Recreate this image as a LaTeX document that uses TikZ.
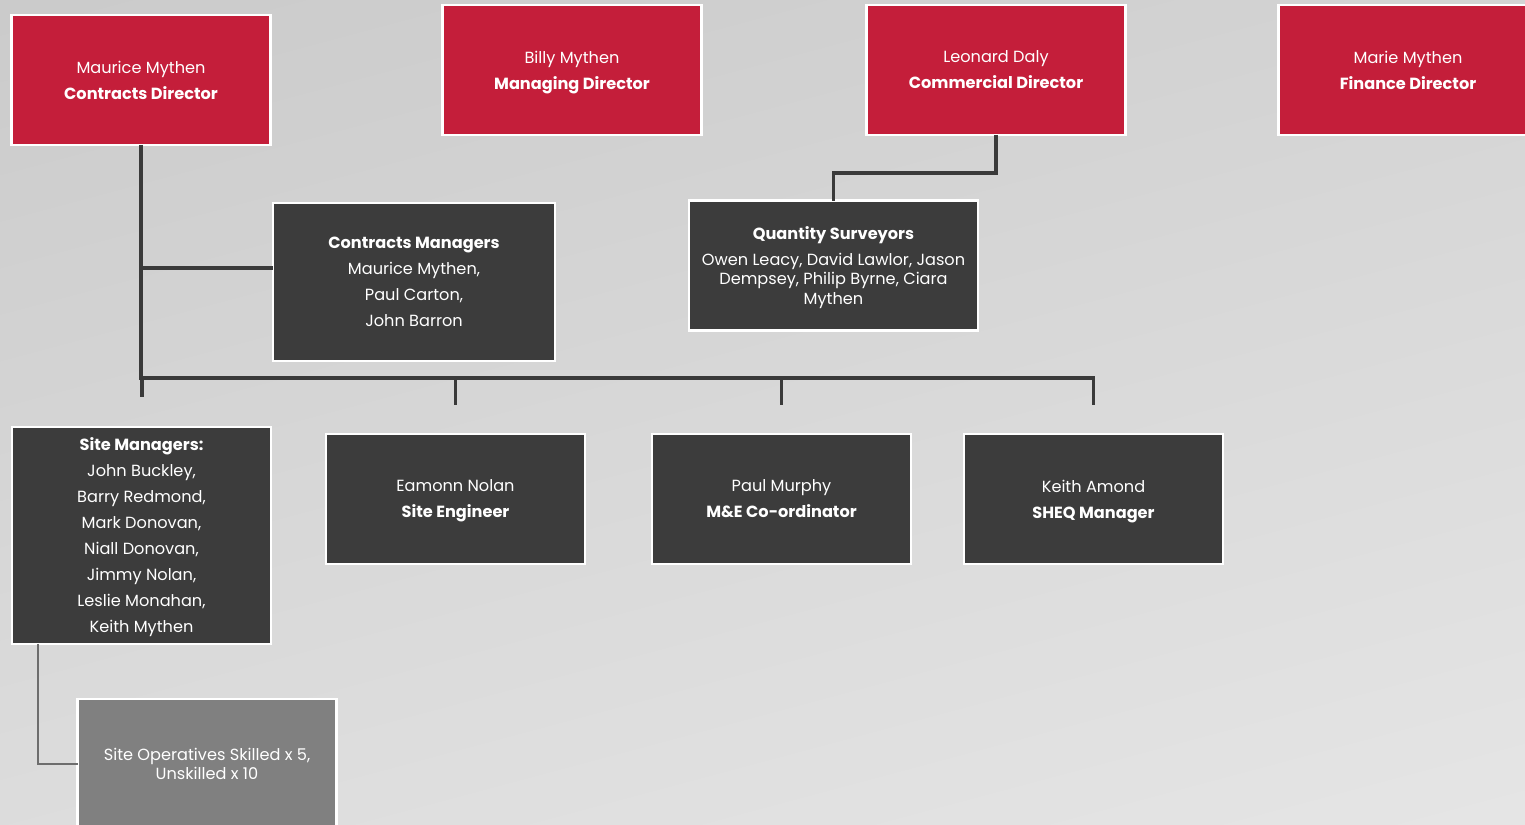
\documentclass[tikz,border=0pt]{standalone}
\usepackage{fontspec}
\setmainfont{Poppins}
\usepackage{tikz}
\definecolor{mythred}{RGB}{196,30,58}
\definecolor{boxgrey}{RGB}{60,60,60}
\definecolor{opgrey}{RGB}{128,128,128}
\definecolor{linegrey}{RGB}{58,58,58}

\begin{document}
\begin{tikzpicture}[x=0.02cm,y=-0.02cm,
	box/.style={draw=white,line width=1.5pt,text=white,align=center,inner sep=2pt,outer sep=0pt,
		text depth=0pt,minimum width=5.18cm,minimum height=2.6cm,font=\fontsize{9.2}{14.8}\selectfont},
	redbox/.style={box,fill=mythred},
	darkbox/.style={box,fill=boxgrey},
	opbox/.style={box,fill=opgrey,font=\fontsize{9.2}{11}\selectfont},
	link/.style={draw=linegrey,line width=1.9pt},
	oplink/.style={draw=opgrey!85!black,line width=1.4pt}]
\useasboundingbox (0,0) rectangle (1525,825);
\clip (0,0) rectangle (1525,825);
\shade[top color={rgb,255:red,203;green,203;blue,203},bottom color={rgb,255:red,229;green,229;blue,229},shading angle=15]
	(-100,-100) rectangle (1625,925);

% directors
\node[redbox] (CD) at (141,80) {Maurice Mythen\\\textbf{Contracts Director}};
\node[redbox] (MD) at (572,70) {Billy Mythen\\\textbf{Managing Director}};
\node[redbox] (ComD) at (996,70) {Leonard Daly\\\textbf{Commercial Director}};
\node[redbox] (FD) at (1408,70) {Marie Mythen\\\textbf{Finance Director}};

% managers
\node[darkbox,minimum width=5.64cm,minimum height=3.16cm] (CM) at (414,282)
	{\textbf{Contracts Managers}\\Maurice Mythen,\\Paul Carton,\\John Barron};
\node[darkbox,minimum width=5.78cm,font=\fontsize{9.2}{11.2}\selectfont] (QS) at (833.5,265.5)
	{\textbf{Quantity Surveyors}\\[3.5pt]Owen Leacy, David Lawlor, Jason\\Dempsey, Philip Byrne, Ciara\\Mythen};
\node[darkbox,minimum height=4.34cm] (SM) at (141.5,535.5)
	{\textbf{Site Managers:}\\John Buckley,\\Barry Redmond,\\Mark Donovan,\\Niall Donovan,\\Jimmy Nolan,\\Leslie Monahan,\\Keith Mythen};
\node[darkbox] (SE) at (455.5,499) {Eamonn Nolan\\\textbf{Site Engineer}};
\node[darkbox] (ME) at (781.5,499) {Paul Murphy\\\textbf{M\&E Co-ordinator}};
\node[darkbox] (SHEQ) at (1093.5,499) {Keith Amond\\\textbf{SHEQ Manager}};
\node[opbox] (SO) at (207,764) {Site Operatives Skilled x 5,\\Unskilled x 10};

\coordinate (bus) at (141,378);
\coordinate (cmjoin) at (141,268);

\draw[link] (CD.south) -- (bus) -- (bus -| SHEQ) -- ++(0,27);
\draw[link] (cmjoin) -- (cmjoin -| CM.west);
\draw[link] \foreach \n in {SE,ME}
{
	(bus -| \n) -- ++(0,27)
};
\draw[link] (bus) ++(1,0) -- ++(0,19);
\draw[link] (ComD.south) -- ++(0,38) -| (QS.north);
\draw[oplink] (SM.south west) ++(26,0) |- (SO.west);

\end{tikzpicture}
\end{document}
